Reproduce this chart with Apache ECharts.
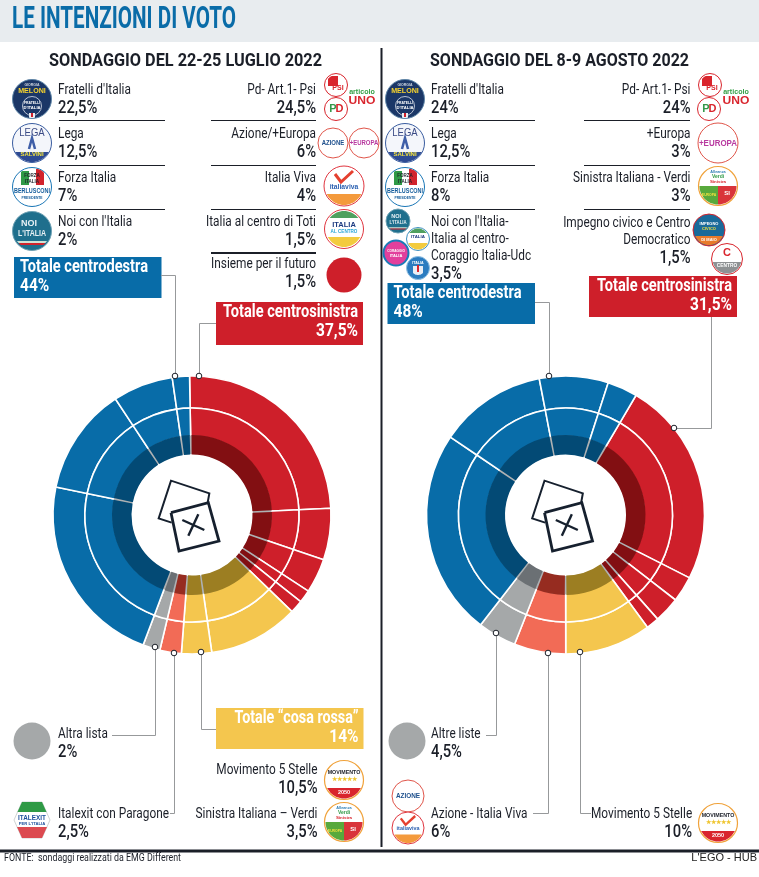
<!DOCTYPE html>
<html>
<head>
<meta charset="utf-8">
<style>html,body{margin:0;padding:0;background:#fff}#chart{width:759px;height:877px}</style>
<script src="https://cdn.jsdelivr.net/npm/echarts@6/dist/echarts.min.js"></script>
</head>
<body>
<div id="chart"></div>
<script>
// sondaggio 22-25 luglio
const namesLuglio = ['Pd- Art.1- Psi', 'Azione/+Europa', 'Italia Viva', 'Italia al centro di Toti', 'Insieme per il futuro', 'Movimento 5 Stelle', 'Sinistra Italiana – Verdi', 'Italexit con Paragone', 'Altra lista', "Fratelli d'Italia", 'Lega', 'Forza Italia', "Noi con l'Italia"];
const valuesLuglio = [24.5, 6, 4, 1.5, 1.5, 10.5, 3.5, 2.5, 2, 22.5, 12.5, 7, 2];
const groupsLuglio = ['red', 'red', 'red', 'red', 'red', 'yellow', 'yellow', 'coral', 'grey', 'blue', 'blue', 'blue', 'blue'];
const totalsLuglio = [44, 37.5, 14];

// sondaggio 8-9 agosto
const namesAgosto = ['Pd- Art.1- Psi', '+Europa', 'Sinistra Italiana - Verdi', 'Impegno civico e Centro\nDemocratico', 'Movimento 5 Stelle', 'Azione - Italia Viva', 'Altre liste', "Fratelli d'Italia", 'Lega', 'Forza Italia', "Noi con l'Italia-\nItalia al centro-\nCoraggio Italia-Udc"];
const valuesAgosto = [24, 3, 3, 1.5, 10, 6, 4.5, 24, 12.5, 8, 3.5];
const groupsAgosto = ['red', 'red', 'red', 'red', 'yellow', 'coral', 'grey', 'blue', 'blue', 'blue', 'blue'];
const totalsAgosto = [48, 31.5];

const light = { red: '#ce1f2a', yellow: '#f4c64e', coral: '#f26b56', grey: '#a5a8a9', blue: '#086ca8' };
const dark = { red: '#820f12', yellow: '#9c7e22', coral: '#962c20', grey: '#6b7074', blue: '#034a75' };
const INK = '#1b1f28';
const GREY_LINE = '#97999b';
const NARROW = 'Roboto,sans-serif';

const g = [];
const pct = v => String(v).replace('.', ',') + '%';
const ruler = document.createElement('canvas').getContext('2d');

function txt(text, x, y, o) {
  o = o || {};
  const family = o.family || NARROW, size = o.size || 14, weight = o.weight || 'normal';
  let sx = o.sx || 1;
  if (o.w) { // larghezza voluta: stringo il testo fino a quella misura
    ruler.font = weight + ' ' + size + 'px ' + family;
    sx = o.w / ruler.measureText(text).width;
  }
  g.push({
    type: 'text', x, y, scaleX: sx, silent: true, z: 20,
    style: { text, x: 0, y: 0, fill: o.color || INK, fontFamily: family, fontSize: size, fontWeight: weight, align: o.align || 'left', verticalAlign: 'middle' }
  });
}
function line(pts, color, w, z) {
  g.push({ type: 'polyline', silent: true, z: z || 10, shape: { points: pts }, style: { stroke: color, lineWidth: w, fill: null } });
}
function rect(x, y, w, h, color) {
  g.push({ type: 'rect', silent: true, z: 5, shape: { x, y, width: w, height: h }, style: { fill: color } });
}
function disc(cx, cy, r, fill, stroke, lw) {
  g.push({ type: 'circle', silent: true, z: 12, shape: { cx, cy, r }, style: { fill, stroke: stroke || null, lineWidth: lw || 1 } });
}
// pezzo di cerchio dentro un rettangolo (bande dei loghi)
function cap(cx, cy, r, x0, y0, x1, y1, color) {
  const pts = [];
  for (let a = 0; a < 360; a += 6) {
    const px = cx + r * Math.cos(a * Math.PI / 180), py = cy + r * Math.sin(a * Math.PI / 180);
    pts.push([Math.min(x1, Math.max(x0, px)), Math.min(y1, Math.max(y0, py))]);
  }
  g.push({ type: 'polygon', silent: true, z: 13, shape: { points: pts }, style: { fill: color } });
}
function tag(text, x, y, size, color, weight, sx) {
  g.push({
    type: 'text', x, y, scaleX: sx || 1, silent: true, z: 15,
    style: { text, x: 0, y: 0, fill: color, fontFamily: 'Liberation Sans', fontSize: size, fontWeight: weight || 'bold', align: 'center', verticalAlign: 'middle' }
  });
}

// ---- loghi semplificati
function logoFdi(x, y) {
  disc(x, y, 19.5, '#1b3767', '#5f86a8', 1);
  tag('GIORGIA', x, y - 14, 3.5, '#cfd6e0');
  tag('MELONI', x, y - 8, 7.5, '#f6d32e', 'bold', .95);
  disc(x, y + 7, 9.5, '#1b3767', '#dfe5ee', .8);
  tag('FRATELLI', x, y + 4, 3.4, '#fff');
  tag("D'ITALIA", x, y + 9, 4.2, '#fff');
  cap(x, y, 19, x - 3, y + 14, x + 3, y + 19, '#e8eef2');
  cap(x, y, 18.5, x - 1, y + 14, x + 1, y + 18, '#ce1f2a');
}
function logoLega(x, y) {
  disc(x, y, 19.5, '#f4f6fb', '#3a5da0', 1);
  tag('LEGA', x, y - 10, 10, '#3a4a85', 'normal', .95);
  line([[x - 3, y + 6], [x, y - 5], [x + 3, y + 6]], '#3f5fa8', 2.5, 13);
  cap(x, y, 19, x - 20, y + 9, x + 20, y + 20, '#2d4a92');
  tag('SALVINI', x, y + 11.5, 6, '#f3e23d');
}
function logoFi(x, y) {
  disc(x, y, 19.5, '#fff', '#1976b6', 1);
  cap(x, y, 19, x - 11, y - 16, x - 3, y - 2, '#2f9a46');
  cap(x, y, 19, x - 3, y - 18, x + 4, y - 2, '#ffffff');
  cap(x, y, 19, x + 4, y - 18, x + 12, y - 2, '#d2232c');
  tag('FORZA', x, y - 11, 4.5, '#1b1f28');
  tag('ITALIA', x, y - 5.5, 4.5, '#1b1f28');
  tag('BERLUSCONI', x, y + 4, 8, '#155d9b', 'bold', .68);
  tag('PRESIDENTE', x, y + 11, 3.3, '#155d9b');
}
function logoNoi(x, y, r) {
  const k = (r || 19.5) / 19.5;
  disc(x, y, 19.5 * k, '#1f6f8d', '#6ea1b4', 1);
  tag('NOI', x - 3 * k, y - 7 * k, 9 * k, '#e8f1f5');
  tag("L'ITALIA", x, y + 3 * k, 9 * k, '#e8f1f5', 'bold', .78);
  cap(x, y, 18 * k, x - 20 * k, y + 10 * k, x + 20 * k, y + 12 * k, '#cfe3d6');
  cap(x, y, 18 * k, x - 20 * k, y + 12 * k, x + 20 * k, y + 14 * k, '#d2232c');
}
function logoPsi(x, y) {
  disc(x, y, 11.5, '#fff', '#d9252d', 1);
  cap(x, y, 10, x - 8, y - 9, x + 2, y + 1, '#d9252d');
  tag('PSI', x + 2, y + 3.5, 7, '#d9252d');
}
function logoPd(x, y) {
  disc(x, y, 11.5, '#fff', '#d9252d', 1);
  tag('P', x - 3, y, 11, '#35984a');
  tag('D', x + 3.5, y, 11, '#d9252d');
}
function artUno(x, y) {
  tag('articolo', x, y - 5, 7.5, '#35a047', 'bold', .95);
  tag('UNO', x, y + 4, 11, '#d9252d', 'bold', 1.1);
}
function logoAzione(x, y, r) {
  disc(x, y, r, '#fff', '#e0554a', 1);
  tag('AZIONE', x, y + .5, r * .42, '#1d4f8c', 'bold', .95);
}
function logoEuropa(x, y, r) {
  disc(x, y, r, '#fff', '#e0554a', 1);
  tag('+EUROPA', x, y + .5, r * .42, '#b83aa0', 'bold', .95);
}
function logoIv(x, y, r) {
  const k = r / 20;
  disc(x, y, r, '#fff', '#e0353f', 1);
  line([[x - 9 * k, y - 12 * k], [x - 3 * k, y - 4 * k], [x + 9 * k, y - 15 * k]], '#e5402f', 3 * k, 13);
  tag('italiaviva', x, y + 1 * k, 7.5 * k, '#2a5fb0', 'bold', .9);
  cap(x, y, r - 1, x - r, y + 8 * k, x + r, y + r, '#f49a3c');
}
function logoToti(x, y) {
  disc(x, y, 19.5, '#fff', '#e0353f', 1);
  cap(x, y, 18, x - 18, y - 18, x + 18, y - 11, '#4fa05f');
  tag('ITALIA', x, y - 4, 7.5, '#1c3a80');
  tag('AL CENTRO', x, y + 3, 4.6, '#2ba6d8');
  cap(x, y, 18, x - 18, y + 8, x + 18, y + 19, '#f3cb3e');
}
function logoM5s(x, y) {
  disc(x, y, 19.5, '#fff', '#f0a23a', 1.2);
  tag('MOVIMENTO', x, y - 8, 5.6, '#1b1f28', 'bold', .95);
  tag('★★★★★', x, y - 1, 5.5, '#efc52f');
  cap(x, y, 18.5, x - 19, y + 8, x + 19, y + 19, '#d9252d');
  tag('2050', x, y + 12.5, 5.5, '#fff');
}
function logoSi(x, y) {
  disc(x, y, 19.5, '#fff', '#f0a23a', 1.2);
  tag('Alleanza', x, y - 14, 3.8, '#2f7fb5');
  tag('Verdi', x, y - 9.5, 5, '#2f9a46');
  tag('Sinistra', x, y - 4.5, 4.4, '#d9252d');
  cap(x, y, 18.5, x - 19, y, x, y + 19, '#58a93c');
  cap(x, y, 18.5, x, y, x + 19, y + 19, '#d9343a');
  tag('EUROPA', x - 9, y + 9, 3.4, '#f3e23d');
  tag('SI', x + 9, y + 7, 6, '#fff');
}
function logoItalexit(x, y) {
  g.push({ type: 'polygon', silent: true, z: 13, shape: { points: [[x - 10, y - 18], [x + 10, y - 18], [x + 18, y], [x + 10, y + 18], [x - 10, y + 18], [x - 18, y]] }, style: { fill: '#fff', stroke: '#cfd4d4' } });
  g.push({ type: 'polygon', silent: true, z: 13, shape: { points: [[x - 10, y - 18], [x + 10, y - 18], [x + 14.5, y - 8], [x - 14.5, y - 8]] }, style: { fill: '#2f9a46' } });
  g.push({ type: 'polygon', silent: true, z: 13, shape: { points: [[x - 15, y + 7], [x + 15, y + 7], [x + 10, y + 18], [x - 10, y + 18]] }, style: { fill: '#dc4a50' } });
  tag('ITALEXIT', x, y - 2, 7.5, '#1c4f9c', 'bold', .85);
  tag("PER L'ITALIA", x, y + 3.5, 4.2, '#1c4f9c');
}
function logoCoraggio(x, y) {
  disc(x, y, 12.5, '#e23f9c', '#1b7ab8', 2);
  tag('CORAGGIO', x, y - 2, 3.2, '#fff');
  tag('ITALIA', x, y + 3, 4, '#fff');
}
function logoUdc(x, y) {
  disc(x, y, 11.5, '#2b7cc0', '#8fbfe2', 1);
  tag('ITALIA', x, y - 5, 3.6, '#fff');
  cap(x, y, 7, x - 5, y - 2, x + 5, y + 7, '#e9eef5');
  cap(x, y, 4, x - 1, y - 3, x + 1, y + 5, '#d9252d');
}
function logoTotiSmall(x, y) {
  disc(x, y, 11.5, '#fff', '#3c8fc0', 1);
  cap(x, y, 10.5, x - 11, y - 11, x + 11, y - 6, '#4fa05f');
  tag('ITALIA', x, y - 2, 4.4, '#1c3a80');
  cap(x, y, 10.5, x - 11, y + 4, x + 11, y + 11, '#f3cb3e');
}
function logoImpegno(x, y) {
  disc(x, y, 16, '#1a6a9a', '#d9252d', 1);
  tag('IMPEGNO', x, y - 6, 4, '#fff');
  tag('CIVICO', x, y - 1, 4, '#f3e23d');
  cap(x, y, 15, x - 15, y + 6, x + 15, y + 15, '#e87a2b');
  tag('DI MAIO', x, y + 9.5, 4, '#fff');
}
function logoCentroDem(x, y) {
  disc(x, y, 15.5, '#fff', '#d9252d', 1);
  tag('C', x, y - 6, 11, '#d9252d');
  cap(x, y, 14.5, x - 15, y + 3, x + 15, y + 15, '#8e9193');
  tag('CENTRO', x, y + 7, 4.8, '#fff');
}

// ---- voce di elenco: nome (anche su piu righe) e percentuale
const NAME_SX = .79, VALUE_SX = .82;
function voce(name, value, x, y, align, valueX, valueAlign) {
  const rows = name.split('\n');
  rows.forEach((r, i) => txt(r, x, y + 1 + i * 17, { size: 15, align, sx: NAME_SX }));
  txt(pct(value), valueX === undefined ? x : valueX, y + (rows.length - 1) * 17 + 19.5, { size: 18, weight: 500, align: valueAlign || align, sx: VALUE_SX });
}
function sep(x0, x1, y, w) { line([[x0, y], [x1, y]], INK, w || 1); }
function box(x, y, w, h, color, title, tw, val, right) {
  rect(x, y, w, h, color);
  const tx = right ? x + w - 5 : x + 6, align = right ? 'right' : 'left';
  txt(title, tx, y + 10.5, { size: 18, weight: 'bold', color: '#fff', align, w: tw });
  txt(pct(val), tx, y + 29, { size: 18, weight: 'bold', color: '#fff', align, sx: .86 });
}
function dot(x, y) {
  g.push({ type: 'circle', silent: true, z: 18, shape: { cx: x, cy: y, r: 2.8 }, style: { fill: '#fff', stroke: INK, lineWidth: 1 } });
}
function icon(cx, cy) {
  const P = a => a.map(p => [cx + p[0] / 3, cy + p[1] / 3]);
  line(P([[47, -37], [52, -65], [-63, -103], [-100, 10], [-61, 23]]), '#16202e', 2);
  line(P([[-63, -7], [49, -37], [81, 78], [-39, 108], [-63, -7]]), '#16202e', 2.8);
  line(P([[-29, 15], [37, 45]]), '#16202e', 2.4);
  line(P([[19, -2], [-11, 62]]), '#16202e', 2.4);
}

// ---- intestazione e cornice
rect(0, 0, 759, 42, '#e8ecef');
txt('LE INTENZIONI DI VOTO', 12, 20, { size: 32, weight: 'bold', color: '#0a6ca8', w: 224 });
txt('SONDAGGIO DEL 22-25 LUGLIO 2022', 49, 61, { size: 18.5, weight: 'bold', w: 273 });
txt('SONDAGGIO DEL 8-9 AGOSTO 2022', 430, 61, { size: 18.5, weight: 'bold', w: 259 });
line([[381.5, 48], [381.5, 847]], INK, 2);
line([[0, 851], [759, 851]], INK, 3);
txt('FONTE:  sondaggi realizzati da EMG Different', 4, 858, { size: 11, w: 177 });
txt("L'EGO - HUB", 757, 858, { size: 11, family: 'Liberation Sans', align: 'right', color: '#222' });

// ---- pannello luglio
[[9, 89], [10, 133], [11, 177], [12, 221]].forEach(r => voce(namesLuglio[r[0]], valuesLuglio[r[0]], 58, r[1], 'left'));
[[0, 89], [1, 133], [2, 177], [3, 221], [4, 263]].forEach(r => voce(namesLuglio[r[0]], valuesLuglio[r[0]], 316, r[1], 'right'));
[120.5, 165.5, 209.5].forEach(y => { sep(59, 165, y); sep(211, 316, y); });
sep(211, 316, 253, 2);
logoFdi(32, 99); logoLega(32, 143); logoFi(32, 187); logoNoi(32, 231);
logoPsi(336, 85); logoPd(336, 109); artUno(362, 97);
logoAzione(333, 143, 15); logoEuropa(364, 143, 15);
logoIv(344, 186, 20); logoToti(344, 229);
disc(344, 275, 17.5, '#ce1f2a');

box(14, 257, 147.5, 41, light.blue, 'Totale centrodestra', 128, totalsLuglio[0]);
box(216, 302, 147, 43, light.red, 'Totale centrosinistra', 135, totalsLuglio[1], true);
box(216, 708, 147.5, 41, light.yellow, 'Totale “cosa rossa”', 124, totalsLuglio[2], true);
line([[161, 275.5], [175.5, 275.5], [175.5, 376]], GREY_LINE, 1);
line([[216, 323.5], [199.5, 323.5], [199.5, 376]], GREY_LINE, 1);
line([[155.5, 647], [155.5, 735.5], [112, 735.5]], GREY_LINE, 1);
line([[174.5, 653], [174.5, 813.5], [170, 813.5]], GREY_LINE, 1);
line([[201.5, 652], [201.5, 729.5], [216, 729.5]], GREY_LINE, 1);
[[175, 376], [199, 376], [155, 647], [174, 653], [201, 652]].forEach(p => dot(p[0], p[1]));

voce(namesLuglio[8], valuesLuglio[8], 58, 733, 'left');
disc(32, 741, 18.5, light.grey);
voce(namesLuglio[7], valuesLuglio[7], 58, 813, 'left');
logoItalexit(32, 820);
voce(namesLuglio[5], valuesLuglio[5], 317.5, 769, 'right');
logoM5s(344, 780);
voce(namesLuglio[6], valuesLuglio[6], 317.5, 813, 'right');
logoSi(344, 822);

// ---- pannello agosto
voce(namesAgosto[7], valuesAgosto[7], 431, 89, 'left');
voce(namesAgosto[8], valuesAgosto[8], 431, 133, 'left');
voce(namesAgosto[9], valuesAgosto[9], 431, 177, 'left');
voce(namesAgosto[10], valuesAgosto[10], 431, 221, 'left');
voce(namesAgosto[0], valuesAgosto[0], 690.5, 89, 'right');
voce(namesAgosto[1], valuesAgosto[1], 690.5, 133, 'right');
voce(namesAgosto[2], valuesAgosto[2], 690.5, 177, 'right');
voce(namesAgosto[3], valuesAgosto[3], 690.5, 222, 'right');
[120.5, 165.5, 209.5].forEach(y => { sep(429, 535, y); sep(584, 690, y); });
logoFdi(405, 99); logoLega(405, 143); logoFi(405, 187);
logoNoi(398, 221, 12); logoTotiSmall(418, 239); logoCoraggio(396, 253); logoUdc(418, 268);
logoPsi(710, 85); logoPd(709, 109); artUno(736, 97);
logoEuropa(718, 143, 20); logoSi(718, 186);
logoImpegno(709, 230); logoCentroDem(727, 259);

box(387.5, 283, 147.5, 41, light.blue, 'Totale centrodestra', 128, totalsAgosto[0]);
box(589, 276, 148, 41, light.red, 'Totale centrosinistra', 135, totalsAgosto[1], true);
line([[535, 302.5], [549.5, 302.5], [549.5, 376]], GREY_LINE, 1);
line([[711.5, 317], [711.5, 428.5], [674, 428.5]], GREY_LINE, 1);
line([[496.5, 633], [496.5, 735.5], [486, 735.5]], GREY_LINE, 1);
line([[548.5, 653], [548.5, 813.5], [533, 813.5]], GREY_LINE, 1);
line([[580.5, 652], [580.5, 813.5], [591, 813.5]], GREY_LINE, 1);
[[549, 376], [674, 428], [496, 633], [548, 653], [580, 652]].forEach(p => dot(p[0], p[1]));

voce(namesAgosto[6], valuesAgosto[6], 431, 733, 'left');
disc(407, 741, 18.5, light.grey);
voce(namesAgosto[5], valuesAgosto[5], 431, 813, 'left');
logoAzione(408, 796, 16); logoIv(408, 828, 16);
voce(namesAgosto[4], valuesAgosto[4], 591, 813, 'left', 692, 'right');
logoM5s(718, 823);

icon(192, 515);
icon(565.5, 515);

// ---- tre anelli per ogni sondaggio
function anelli(names, values, groups, center, startAngle) {
  const data = names.map((n, i) => ({ name: n, value: values[i] }));
  const base = { type: 'pie', center, startAngle, silent: true, animation: false, label: { show: false }, labelLine: { show: false }, data };
  const col = map => p => map[groups[p.dataIndex]];
  return [
    { ...base, z: 1, radius: [107, 139], itemStyle: { color: col(light), borderColor: '#fff', borderWidth: 1.6 } },
    { ...base, z: 2, radius: [76, 107], itemStyle: { color: col(light), borderColor: '#fff', borderWidth: 1.6 } },
    { ...base, z: 3, radius: [61, 79.5], data: [{ name: 'fondo', value: 1 }], itemStyle: { color: '#aeb1b3' } },
    { ...base, z: 4, radius: [60.5, 80], padAngle: 1.3, itemStyle: { color: col(dark) } }
  ];
}

const chart = echarts.init(document.getElementById('chart'), null, { renderer: 'canvas' });
chart.setOption({
  animation: false,
  backgroundColor: '#fff',
  graphic: { elements: g },
  series: [
    ...anelli(namesLuglio, valuesLuglio, groupsLuglio, [192, 515], 91),
    ...anelli(namesAgosto, valuesAgosto, groupsAgosto, [565.5, 515], 59.5)
  ]
});
</script>
</body>
</html>
